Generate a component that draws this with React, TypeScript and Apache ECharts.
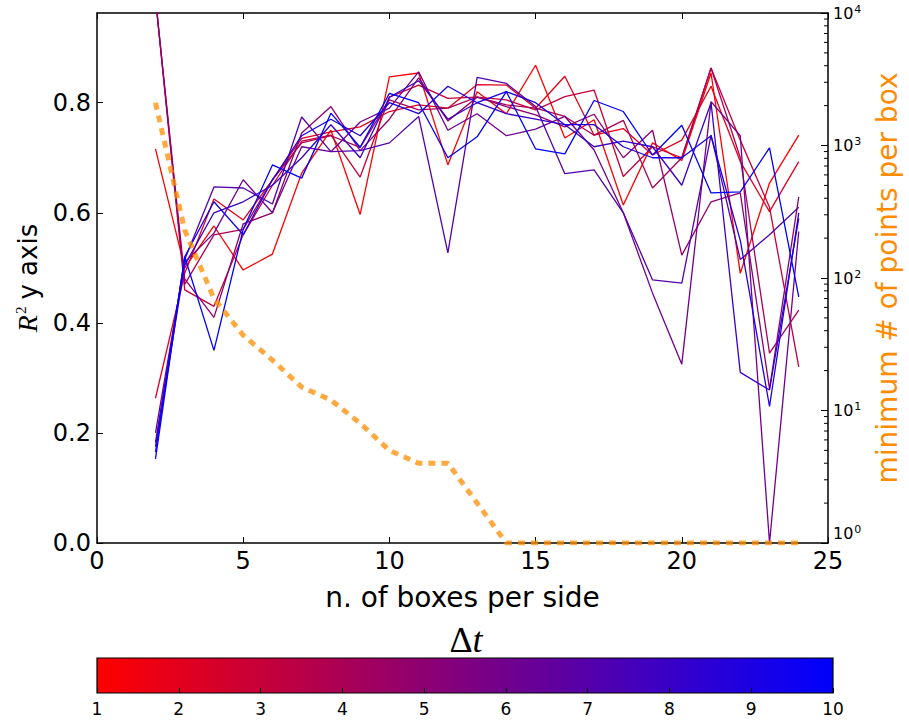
import React, { useEffect, useRef } from "react";
import * as echarts from "echarts";

// n. of boxes per side
const boxes = [2, 3, 4, 5, 6, 7, 8, 9, 10, 11, 12, 13, 14, 15, 16, 17, 18, 19, 20, 21, 22, 23, 24];

// R^2 (y axis) for each Δt
const r2Dt1 = [0.716, 0.5, 0.576, 0.496, 0.525, 0.672, 0.75, 0.597, 0.847, 0.854, 0.687, 0.82, 0.78, 0.868, 0.736, 0.769, 0.614, 0.727, 0.695, 0.854, 0.49, 0.654, 0.741];
const r2Dt2 = [0.263, 0.49, 0.625, 0.587, 0.66, 0.735, 0.747, 0.756, 0.784, 0.796, 0.79, 0.833, 0.832, 0.79, 0.848, 0.741, 0.753, 0.705, 0.732, 0.83, 0.693, 0.602, 0.693];
const r2Dt3 = [0.99, 0.46, 0.43, 0.56, 0.65, 0.73, 0.741, 0.665, 0.81, 0.832, 0.808, 0.81, 0.805, 0.787, 0.811, 0.823, 0.666, 0.72, 0.7, 0.863, 0.732, 0.61, 0.32];
const r2Dt4 = [0.99, 0.47, 0.56, 0.57, 0.66, 0.727, 0.74, 0.719, 0.805, 0.787, 0.79, 0.81, 0.796, 0.79, 0.775, 0.741, 0.768, 0.645, 0.7, 0.863, 0.7, 0.345, 0.423];
const r2Dt5 = [0.99, 0.48, 0.41, 0.58, 0.6, 0.745, 0.793, 0.713, 0.77, 0.845, 0.767, 0.81, 0.793, 0.778, 0.756, 0.779, 0.7, 0.75, 0.523, 0.62, 0.636, 0.28, 0.629];
const r2Dt6 = [0.2, 0.51, 0.563, 0.66, 0.6, 0.72, 0.711, 0.765, 0.79, 0.856, 0.75, 0.78, 0.74, 0.752, 0.775, 0.714, 0.6, 0.454, 0.325, 0.802, 0.74, 0.0, 0.566];
const r2Dt7 = [0.183, 0.515, 0.647, 0.645, 0.616, 0.774, 0.711, 0.713, 0.727, 0.775, 0.527, 0.846, 0.835, 0.793, 0.671, 0.678, 0.6, 0.478, 0.472, 0.741, 0.515, 0.56, 0.61];
const r2Dt8 = [0.175, 0.505, 0.6, 0.62, 0.65, 0.7, 0.76, 0.7, 0.81, 0.84, 0.77, 0.8, 0.78, 0.77, 0.76, 0.72, 0.73, 0.72, 0.65, 0.8, 0.31, 0.278, 0.59];
const r2Dt9 = [0.165, 0.52, 0.62, 0.56, 0.66, 0.74, 0.77, 0.74, 0.8, 0.78, 0.83, 0.8, 0.82, 0.8, 0.76, 0.76, 0.72, 0.7, 0.7, 0.74, 0.55, 0.248, 0.6];
const r2Dt10 = [0.153, 0.52, 0.35, 0.57, 0.687, 0.663, 0.781, 0.719, 0.817, 0.8, 0.7, 0.738, 0.82, 0.716, 0.707, 0.804, 0.784, 0.705, 0.759, 0.636, 0.638, 0.718, 0.447];

const r2Series = [r2Dt1, r2Dt2, r2Dt3, r2Dt4, r2Dt5, r2Dt6, r2Dt7, r2Dt8, r2Dt9, r2Dt10];
const dtValues = [1, 2, 3, 4, 5, 6, 7, 8, 9, 10];

// minimum # of points per box (right, log axis)
const minPoints = [2100, 230, 70, 37, 24, 15, 12, 8, 5, 4, 4, 2, 1, 1, 1, 1, 1, 1, 1, 1, 1, 1, 1];

// minor ticks of the log axis
const logMinorTicks = [2, 3, 4, 5, 6, 7, 8, 9, 20, 30, 40, 50, 60, 70, 80, 90, 200, 300, 400, 500, 600, 700, 800, 900, 2000, 3000, 4000, 5000, 6000, 7000, 8000, 9000];

const colorFor = (t: number) => {
  const f = (t - 1) / 9;
  const r = Math.round(255 * (1 - f));
  const b = Math.round(255 * f);
  return `rgb(${r},0,${b})`;
};

const FONT = "DejaVu Sans";
const SERIF = "Liberation Serif";

export default function App() {
  const ref = useRef<HTMLDivElement>(null);

  useEffect(() => {
    if (!ref.current) return;
    const chart = echarts.init(ref.current, undefined, { renderer: "svg" });

    const lineSeries = r2Series.map((vals, k) => ({
      type: "line",
      name: `Δt=${dtValues[k]}`,
      xAxisIndex: 0,
      yAxisIndex: 0,
      data: boxes.map((x, i) => [x, vals[i]]),
      symbol: "none",
      showSymbol: false,
      clip: true,
      lineStyle: { width: 1.3, color: colorFor(dtValues[k]) },
      itemStyle: { color: colorFor(dtValues[k]) },
      z: 2,
    }));

    const option: any = {
      animation: false,
      backgroundColor: "#fff",
      grid: [
        { left: 97, right: 76, top: 13, height: 530, containLabel: false },
        { left: 97, right: 76, top: 658, height: 35, containLabel: false },
      ],
      xAxis: [
        {
          gridIndex: 0,
          type: "value",
          min: 0,
          max: 25,
          interval: 5,
          position: "bottom",
          axisLine: { onZero: false, lineStyle: { color: "#000", width: 1.5 } },
          axisTick: { inside: true, length: 6, lineStyle: { color: "#000", width: 1 } },
          axisLabel: { fontSize: 24, color: "#000", fontFamily: FONT, margin: 6 },
          splitLine: { show: false },
          name: "n. of boxes per side",
          nameLocation: "middle",
          nameGap: 40,
          nameTextStyle: { fontSize: 28, color: "#000", fontFamily: FONT },
        },
        {
          gridIndex: 0,
          type: "value",
          min: 0,
          max: 25,
          interval: 5,
          position: "top",
          axisLine: { onZero: false, lineStyle: { color: "#000", width: 1.5 } },
          axisTick: { inside: true, length: 6, lineStyle: { color: "#000", width: 1 } },
          axisLabel: { show: false },
          splitLine: { show: false },
        },
        {
          gridIndex: 1,
          type: "value",
          min: 1,
          max: 10,
          interval: 1,
          axisLine: { show: false },
          axisTick: { inside: true, length: 5, lineStyle: { color: "#000", width: 1 } },
          axisLabel: { fontSize: 17, color: "#000", fontFamily: FONT, margin: 7 },
          splitLine: { show: false },
          z: 5,
        },
      ],
      yAxis: [
        {
          gridIndex: 0,
          type: "value",
          min: 0,
          max: 0.963,
          interval: 0.2,
          position: "left",
          axisLine: { onZero: false, lineStyle: { color: "#000", width: 1.5 } },
          axisTick: { inside: true, length: 6, lineStyle: { color: "#000", width: 1 } },
          axisLabel: {
            fontSize: 24,
            color: "#000",
            fontFamily: FONT,
            margin: 6,
            showMaxLabel: false,
            formatter: (v: number) => (v > 0.9 ? "" : v.toFixed(1)),
          },
          splitLine: { show: false },
          name: "{i|R}{s|2}y axis",
          nameLocation: "middle",
          nameGap: 52,
          nameRotate: 90,
          nameTextStyle: {
            fontSize: 26,
            color: "#000",
            fontFamily: FONT,
            rich: {
              i: { fontFamily: SERIF, fontStyle: "italic", fontSize: 28, color: "#000" },
              s: { fontFamily: SERIF, fontSize: 15, color: "#000", verticalAlign: "top", padding: [0, 7, 10, 1] },
            },
          },
        },
        {
          gridIndex: 0,
          type: "log",
          logBase: 10,
          min: 1,
          max: 10000,
          position: "right",
          axisLine: { onZero: false, lineStyle: { color: "#000", width: 1.5 } },
          axisTick: { inside: true, length: 7, lineStyle: { color: "#000", width: 1 } },
          minorTick: { show: false },
          axisLabel: {
            color: "#000",
            fontFamily: FONT,
            margin: 5,
            verticalAlignMinLabel: "bottom",
            formatter: (v: number) => `{b|10}{s|${Math.round(Math.log10(v))}}`,
            rich: {
              b: { fontSize: 16, fontFamily: FONT, color: "#000" },
              s: { fontSize: 11, fontFamily: FONT, color: "#000", verticalAlign: "top", padding: [0, 0, 8, 1] },
            },
          },
          splitLine: { show: false },
          name: "minimum # of points per box",
          nameLocation: "middle",
          nameGap: 45,
          nameRotate: 90,
          nameTextStyle: { fontSize: 28, color: "#ff8c00", fontFamily: FONT },
        },
        { gridIndex: 1, type: "value", min: 0, max: 1, show: false },
      ],
      series: [
        ...lineSeries,
        {
          type: "line",
          name: "minimum # of points per box",
          xAxisIndex: 0,
          yAxisIndex: 1,
          data: boxes.map((x, i) => [x, minPoints[i]]),
          symbol: "none",
          showSymbol: false,
          clip: true,
          lineStyle: { width: 5, type: [7, 6], color: "rgba(255,140,0,0.75)" },
          z: 3,
        },
        {
          type: "custom",
          name: "log minor ticks",
          xAxisIndex: 0,
          yAxisIndex: 1,
          silent: true,
          clip: false,
          data: logMinorTicks.map((v) => [25, v]),
          renderItem: (_p: any, api: any) => {
            const pt = api.coord([api.value(0), api.value(1)]);
            return {
              type: "line",
              shape: { x1: pt[0] - 4, y1: pt[1], x2: pt[0], y2: pt[1] },
              style: { stroke: "#000", lineWidth: 1 },
            };
          },
          z: 5,
        },
        {
          type: "custom",
          name: "colorbar",
          xAxisIndex: 2,
          yAxisIndex: 2,
          silent: true,
          clip: false,
          data: [[dtValues[0], dtValues[dtValues.length - 1]]],
          renderItem: (_p: any, api: any) => {
            const p0 = api.coord([api.value(0), 1]);
            const p1 = api.coord([api.value(1), 0]);
            return {
              type: "rect",
              shape: { x: p0[0], y: p0[1], width: p1[0] - p0[0], height: p1[1] - p0[1] },
              style: {
                fill: new echarts.graphic.LinearGradient(0, 0, 1, 0, [
                  { offset: 0, color: colorFor(dtValues[0]) },
                  { offset: 1, color: colorFor(dtValues[dtValues.length - 1]) },
                ]),
                stroke: "#000",
                lineWidth: 1.2,
              },
            };
          },
          z: 1,
        },
      ],
      graphic: [
        {
          type: "text",
          x: 466,
          y: 640,
          style: {
            text: "{d|Δ}{t|t}",
            align: "center",
            verticalAlign: "middle",
            rich: {
              d: { fontFamily: SERIF, fontSize: 36, fill: "#000", color: "#000" },
              t: { fontFamily: SERIF, fontStyle: "italic", fontSize: 36, fill: "#000", color: "#000" },
            },
          },
        },
      ],
    };

    chart.setOption(option);
    return () => chart.dispose();
  }, []);

  return (
    <div
      ref={ref}
      style={{ position: "fixed", left: 0, top: 0, width: 909, height: 723, background: "#fff" }}
    />
  );
}
